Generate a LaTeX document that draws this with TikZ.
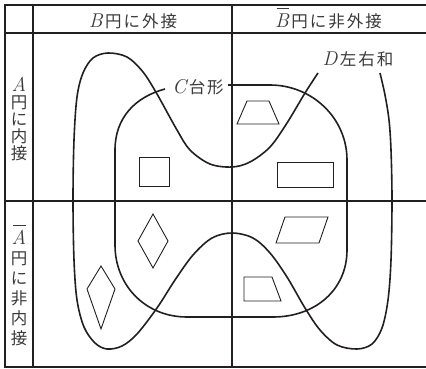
\documentclass[tikz,border=0pt]{standalone}
\usepackage{fontspec}
\newfontfamily\cjk{Noto Sans CJK JP}
\newfontfamily\cjkw{Noto Sans CJK JP}[LetterSpace=12]
\newcommand{\ltr}[1]{{\rmfamily\itshape\fontsize{20}{17}\selectfont #1}\kern2.5pt}
\newcommand{\ltrv}[1]{{\rmfamily\itshape\fontsize{20}{17}\selectfont #1}}
\newcommand{\ltrbar}[1]{{\rmfamily\itshape\fontsize{20}{17}\selectfont\setbox0\hbox{#1}\rlap{\kern1.5pt\rule[18.5pt]{\dimexpr\wd0-1.5pt\relax}{1.1pt}}\box0}}
\definecolor{ink}{HTML}{231F20}
\definecolor{txt}{HTML}{3A3A3A}
\begin{document}
\begin{tikzpicture}[x=1pt,y=-1pt,
  gridline/.style={line width=1.3pt, draw=ink},
  curve/.style={line width=1.6pt, draw=ink, line join=round},
  fig/.style={line width=0.9pt, draw=ink, line join=miter},
  lbl/.style={font=\cjkw\fontsize{16.5}{17}\selectfont, text=txt, inner sep=0pt},
  vlbl/.style={font=\cjk\fontsize{16.5}{17}\selectfont, text=txt, inner sep=0pt, align=center}]
\useasboundingbox (0,0) rectangle (426,369);
% table grid
\coordinate (tl) at (5,5);
\coordinate (tr) at (426,5);
\coordinate (bl) at (5,367);
\coordinate (br) at (426,367);
\draw[gridline] (tr) -- (tl) -- (bl) -- (br);
\draw[gridline] (33,5) coordinate (c1t) -- (33,367) coordinate (c1b);
\draw[gridline] (232,5) coordinate (c2t) -- (232,367) coordinate (c2b);
\draw[gridline] (5,33) coordinate (r1l) -- (426,33) coordinate (r1r);
\draw[gridline] (5,201) coordinate (r2l) -- (426,201) coordinate (r2r);
% headers
\node[lbl, anchor=base] (hB) at (133,27.5) {\ltr{B}円に外接};
\node[lbl, anchor=base] (hBn) at (328.5,27.5) {\ltrbar{B}\kern2.5pt円に非外接};
\node[vlbl, anchor=north] (rA) at (19,77) {\ltrv{A}\\円\\に\\内\\接};
\node[vlbl, anchor=north, font=\cjk\fontsize{16.5}{20}\selectfont] (rAn) at (19,224.5) {\ltrbar{A}\\円\\に\\非\\内\\接};
% labels
\node[lbl, anchor=base] (lC) at (198,94) {\ltr{C}台形};
\node[lbl, anchor=base] (lD) at (358,66) {\ltr{D}左右和};
% D curve
\draw[curve] plot[smooth, tension=0.55] coordinates {
 (318,73) (305,93) (287,123) (270,147) (250,162) (232,167) (210,164)
 (190,150) (177,130) (157,94) (143,72) (127,57) (108,53) (93,58) (83,73)
 (77,97) (74,140) (73,200) (74,260) (77,300) (84,327) (95,343) (107,349)
 (122,346) (137,334) (157,308) (175,280) (193,255) (212,238) (232,233)
 (253,238) (270,253) (287,277) (305,308) (320,330) (337,345) (357,349)
 (372,344) (382,328) (388,300) (391,260) (392,200) (391,150) (389,120)
 (385,95) (380,73)};
% C rounded rectangle
\draw[curve] (228,85) -- (270,85) .. controls (312,85) and (347,118) .. (347,160)
  -- (347,250) .. controls (347,290) and (315,317) .. (273,317)
  -- (187,317) .. controls (145,317) and (115,285) .. (115,245)
  -- (115,150) .. controls (115,118) and (135,97) .. (165,89);
% figures
\draw[fig] (139,157) rectangle (169,186);
\draw[fig] (247,101) -- (269,101) -- (279,124) -- (237,124) -- cycle;
\draw[fig] (277,162) rectangle (333,187);
\draw[fig] (153,214) -- (168,241) -- (153,268) -- (138,241) -- cycle;
\draw[fig] (101,266) -- (115,289) -- (101,329) -- (87,289) -- cycle;
\draw[fig] (285,217) -- (328,217) -- (319,243) -- (276,243) -- cycle;
\draw[fig] (244,277) -- (272,277) -- (281,301) -- (244,301) -- cycle;
\end{tikzpicture}
\end{document}
